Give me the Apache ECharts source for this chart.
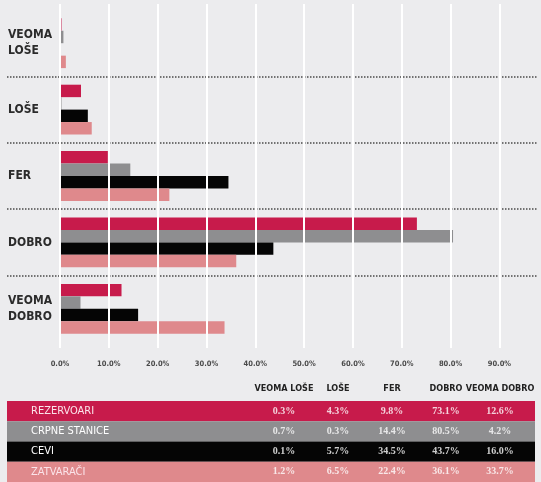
<!DOCTYPE html>
<html>
<head>
<meta charset="utf-8">
<script src="https://cdn.jsdelivr.net/npm/echarts@6/dist/echarts.min.js"></script>
<style>
html,body{margin:0;padding:0;background:#ececee;}
#chart{width:541px;height:482px;}
</style>
</head>
<body>
<div id="chart"></div>
<script>
// ---- data ----
const categories = ['VEOMA\nLOŠE', 'LOŠE', 'FER', 'DOBRO', 'VEOMA\nDOBRO'];
const columnHeaders = ['VEOMA LOŠE', 'LOŠE', 'FER', 'DOBRO', 'VEOMA DOBRO'];
const seriesNames = ['REZERVOARI', 'CRPNE STANICE', 'CEVI', 'ZATVARAČI'];
const rezervoari = [0.3, 4.3, 9.8, 73.1, 12.6];
const crpneStanice = [0.7, 0.3, 14.4, 80.5, 4.2];
const cevi = [0.1, 5.7, 34.5, 43.7, 16.0];
const zatvaraci = [1.2, 6.5, 22.4, 36.1, 33.7];
const xMin = 0;
const xMax = 97.7;
const xInterval = 10;

// ---- styles ----
const colors = ['#c71b4b', '#8e8e90', '#050505', '#df898c'];
const textColors = ['#fbe4ea', '#ffffff', '#ffffff', '#fbe4ea'];
const narrow = '"Liberation Sans Narrow", "DejaVu Sans Condensed", "Liberation Sans", sans-serif';
const serif = '"Liberation Serif", "DejaVu Serif", serif';

const seriesValues = [rezervoari, crpneStanice, cevi, zatvaraci];

const chart = echarts.init(document.getElementById('chart'), null, {renderer: 'canvas'});

const barSeries = seriesValues.map((vals, i) => ({
  type: 'bar',
  name: seriesNames[i],
  xAxisIndex: 0,
  yAxisIndex: 0,
  data: vals,
  barGap: '0%',
  barCategoryGap: '25%',
  itemStyle: {color: colors[i]},
  z: 2,
  silent: true
}));

// table cells: [column, row, value]
const cellData = [];
seriesValues.forEach((vals, r) => vals.forEach((v, c) => cellData.push([c, r, v])));

const option = {
  backgroundColor: '#ececee',
  animation: false,
  grid: [
    {left: 60, right: 4, top: 10, bottom: 140},   // bars
    {left: 60, right: 4, top: 4, bottom: 134},    // white vertical lines + tick labels
    {left: 7, right: 4, top: 10, bottom: 140},    // dotted separators
    {left: 7, right: 6, top: 401, bottom: 0},     // table row backgrounds
    {left: 257, right: 14, top: 401, bottom: 0}   // table values
  ],
  xAxis: [
    {gridIndex: 0, type: 'value', min: xMin, max: xMax, show: false},
    {gridIndex: 1, type: 'value', min: xMin, max: xMax, interval: xInterval, z: 5,
      axisLine: {show: false}, axisTick: {show: false},
      splitLine: {show: true, showMinLine: true, showMaxLine: false, lineStyle: {color: '#ffffff', width: 2}},
      axisLabel: {show: true, showMaxLabel: false, margin: 12, color: '#4a4a4a', fontSize: 7.5, fontWeight: 'bold',
        fontFamily: narrow, formatter: v => v.toFixed(1) + '%'}},
    {gridIndex: 2, type: 'value', min: 0, max: 1, show: false},
    {gridIndex: 3, type: 'value', min: 0, max: 1, show: false},
    {gridIndex: 4, type: 'category', data: columnHeaders, position: 'top', z: 5,
      axisLine: {show: false}, axisTick: {show: false}, splitLine: {show: false},
      axisLabel: {interval: 0, margin: 8, color: '#222', fontSize: 9, fontWeight: 'bold', fontFamily: narrow}}
  ],
  yAxis: [
    {gridIndex: 0, type: 'category', data: categories, inverse: true,
      axisLine: {show: false}, axisTick: {show: false}, splitLine: {show: false},
      axisLabel: {margin: 52, align: 'left', color: '#2b2b2b', fontSize: 12, fontWeight: 'bold',
        fontFamily: narrow, lineHeight: 16}},
    {gridIndex: 1, type: 'value', show: false},
    {gridIndex: 2, type: 'value', min: 0, max: categories.length, interval: 1, inverse: true,
      axisLine: {show: false}, axisTick: {show: false}, axisLabel: {show: false},
      splitLine: {show: true, showMinLine: false, showMaxLine: false,
        lineStyle: {color: '#4a4a4a', width: 1.5, type: [1.5, 1.5]}}},
    {gridIndex: 3, type: 'category', data: seriesNames, inverse: true, z: 6,
      axisLine: {show: false}, axisTick: {show: false}, splitLine: {show: false},
      axisLabel: {inside: true, margin: 24, align: 'left',
        color: (v, i) => textColors[i], fontSize: 11, fontFamily: narrow}},
    {gridIndex: 4, type: 'category', data: seriesNames, inverse: true, show: false}
  ],
  series: barSeries.concat([
    {
      type: 'bar',
      xAxisIndex: 3,
      yAxisIndex: 3,
      silent: true,
      barCategoryGap: '0%',
      data: seriesNames.map((n, i) => ({value: 1, itemStyle: {color: colors[i]}})),
      z: 1
    },
    {
      type: 'scatter',
      xAxisIndex: 4,
      yAxisIndex: 4,
      silent: true,
      symbolSize: 1,
      itemStyle: {color: 'rgba(0,0,0,0)'},
      data: cellData,
      z: 5,
      label: {
        show: true,
        position: 'inside',
        fontFamily: serif,
        fontSize: 10,
        fontWeight: 'bold',
        color: '#ffffff',
        formatter: p => p.value[2].toFixed(1) + '%'
      }
    }
  ])
};

chart.setOption(option);
</script>
</body>
</html>
